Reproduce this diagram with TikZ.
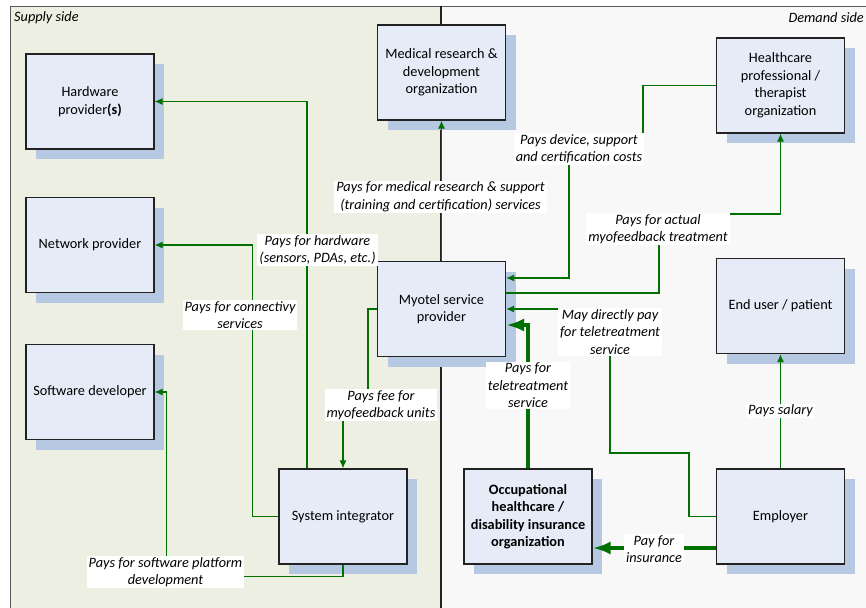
\documentclass[tikz,border=0pt]{standalone}
\usepackage{fontspec}
\setmainfont{Carlito}
\usetikzlibrary{shadows,arrows.meta}
\definecolor{supplybg}{RGB}{238,239,227}
\definecolor{demandbg}{RGB}{248,248,248}
\definecolor{panelline}{RGB}{90,90,90}
\definecolor{boxfill}{RGB}{229,236,248}
\definecolor{boxline}{RGB}{34,34,34}
\definecolor{shadowblue}{RGB}{182,200,226}
\definecolor{paygreen}{RGB}{0,112,0}
\begin{document}
\begin{tikzpicture}[x=1pt,y=-1pt,
    party/.style={draw=boxline,line width=1.2pt,fill=boxfill,minimum width=128pt,minimum height=95pt,
        align=center,inner xsep=2pt,font=\fontsize{14.3}{17.5}\selectfont,
        drop shadow={shadow xshift=10pt,shadow yshift=-10pt,fill=shadowblue,opacity=1}},
    paylbl/.style={fill=white,inner xsep=2pt,inner ysep=1pt,align=center,font=\fontsize{14.3}{17.5}\selectfont\itshape},
    sidelbl/.style={inner sep=0pt,font=\fontsize{14.3}{17.5}\selectfont\itshape},
    pay/.style={draw=paygreen,line width=1.2pt,-{Latex[length=8pt,width=7pt]}},
    paybig/.style={draw=paygreen,line width=4.5pt,-{Latex[length=18pt,width=13pt]}}]
        \useasboundingbox (0,0) rectangle (866,607);
        \path[draw=panelline,fill=supplybg] (10,6) rectangle (441,640);
        \path[draw=panelline,fill=demandbg] (441,6) rectangle (880,640);
        \path[draw=boxline,line width=1.2pt] (441,6) -- (441,640);
        \node[sidelbl,anchor=west] (supply) at (14,18) {Supply side};
        \node[sidelbl,anchor=east] (demand) at (864,18) {Demand side};

        \node[party] (hw) at (90,101.5) {Hardware\\provider\textbf{(s)}};
        \node[party] (net) at (90,245) {Network provider};
        \node[party] (sw) at (90,392) {Software developer};
        \node[party] (med) at (441.5,72.5) {Medical research \&\\development\\organization};
        \node[party] (hc) at (780.5,85.5) {Healthcare\\professional /\\therapist\\organization};
        \node[party] (myo) at (441.5,309) {Myotel service\\provider};
        \node[party] (eu) at (780.5,306) {End user / patient};
        \node[party] (sys) at (343,516.5) {System integrator};
        \node[party,font=\fontsize{14.3}{17.5}\selectfont\bfseries] (occ) at (528,516.5) {Occupational\\healthcare /\\disability insurance\\organization};
        \node[party] (emp) at (780.5,516.5) {Employer};

        \path[pay] ([xshift=-36pt]sys.north) |- (hw.east);
        \path[pay] (sys.west) -- ++(-26,0) |- (net.east);
        \path[pay] (sys.south) -- ++(0,12) -| ([xshift=12pt]sw.east) -- (sw.east);
        \path[pay] (myo.west) -- ++(-9,0) -- ++(0,96) -| (sys.north);
        \path[pay] (myo.north) -- (med.south);
        \path[pay] (hc.west) -| (643,148) -| (569,278) -- ([yshift=31pt]myo.east);
        \path[pay] ([yshift=16pt]myo.east) -| (659,214) -| (hc.south);
        \path[pay] (emp.west) -- ++(-27,0) |- (610,453) |- (myo.east);
        \path[pay] (emp.north) -- (eu.south);
        \path[paybig] (occ.north) |- ([yshift=-16pt]myo.east);
        \path[paybig] ([yshift=-31.5pt]emp.west) -- ([yshift=-31.5pt]occ.east);

        \node[paylbl] (lhw) at (317.5,250) {Pays for hardware\\(sensors, PDAs, etc.)};
        \node[paylbl] (lnet) at (240,315) {Pays for connectivy\\services};
        \node[paylbl] (lsw) at (165.5,572) {Pays for software platform\\development};
        \node[paylbl] (lsys) at (381,405) {Pays fee for\\myofeedback units};
        \node[paylbl] (lmed) at (440.5,197) {Pays for medical research \& support\\(training and certification) services};
        \node[paylbl] (lcost) at (579,149) {Pays device, support\\and certification costs};
        \node[paylbl] (ltreat) at (658,229) {Pays for actual\\myofeedback treatment};
        \node[paylbl] (ldirect) at (610,332) {May directly pay\\for teletreatment\\service};
        \node[paylbl] (ltele) at (528,385.5) {Pays for\\teletreatment\\service};
        \node[paylbl] (lsal) at (780.5,411) {Pays salary};
        \node[paylbl] (lins) at (654,549) {Pay for\\insurance};
    \end{tikzpicture}
\end{document}
